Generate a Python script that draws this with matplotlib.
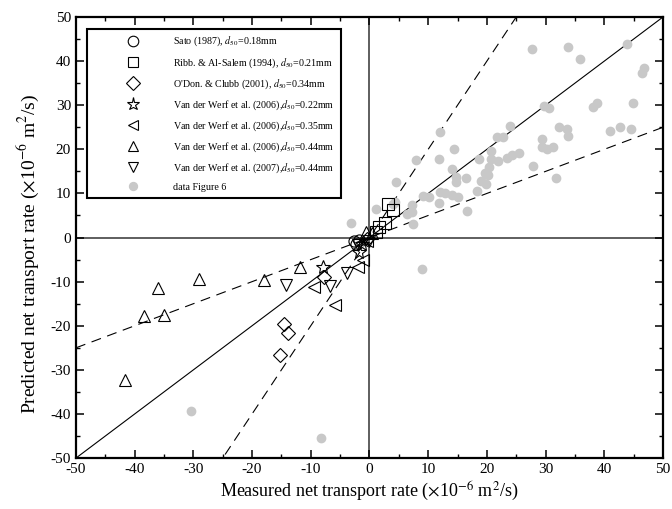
import matplotlib
matplotlib.use("Agg")
import matplotlib.pyplot as plt
import numpy as np
from matplotlib.ticker import MultipleLocator

plt.rcParams['font.family'] = ['Liberation Serif', 'DejaVu Serif']
plt.rcParams['mathtext.fontset'] = 'stix'

# gray "data Figure 6"
gray_x = [27.7, 33.8, 35.8, 43.8, 46.7, 46.5, 29.7, 30.5, 38.0, 38.7, 44.9, 12.0, 14.4, 24.0,
          21.8, 22.7, 20.7, 32.3, 33.6, 33.8, 41.0, 42.7, 44.6, 29.4, 29.4, 30.3, 31.3, 27.9,
          31.8, 7.9, 11.8, 14.0, 14.8, 14.8, 16.4, 18.6, 20.7, 21.9, 23.4, 24.3, 25.4, 20.4,
          19.6, 20.2, 19.0, 19.9, 18.3, 16.6, 12.0, 12.8, 11.9, 14.0, 15.1, 9.1, 10.2, 7.3,
          7.3, 6.4, 7.4, 4.5, 4.3, 8.9, 1.1, -3.1, 4.0, -30.4, -8.2]
gray_y = [42.8, 43.3, 40.4, 43.9, 38.4, 37.3, 29.9, 29.4, 29.5, 30.6, 30.5, 24.0, 20.0, 25.2,
          22.7, 22.7, 19.7, 25.0, 24.5, 23.1, 24.2, 25.0, 24.6, 22.3, 20.5, 20.1, 20.6, 16.2,
          13.5, 17.6, 17.8, 15.6, 13.7, 12.5, 13.5, 17.7, 17.7, 17.3, 18.1, 18.8, 19.1, 15.9,
          14.6, 14.1, 12.9, 12.2, 10.5, 6.1, 10.3, 10.0, 7.8, 9.6, 9.1, 9.5, 9.3, 7.3,
          5.7, 5.4, 3.1, 12.6, 8.0, -7.1, 6.5, 3.2, 7.6, -39.4, -45.4]

sato_x = [-2.7, -2.3, -1.8]
sato_y = [-0.7, -1.4, -0.5]
ribb_x = [3.1, 4.0, 2.7, 1.7, 1.1]
ribb_y = [7.5, 6.3, 3.3, 2.5, 1.2]
odon_x = [-14.6, -13.9, -15.3, -7.7, -0.5]
odon_y = [-19.6, -21.7, -26.6, -9.0, -0.3]
w22_x = [-8.0, -1.7, -1.2]
w22_y = [-6.7, -3.3, -1.5]
w35_x = [-9.4, -5.8, -2.0, -1.1, -0.5]
w35_y = [-11.1, -15.2, -6.6, -5.2, -0.8]
w44_x = [-36.1, -29.0, -38.4, -35.0, -41.7, -17.9, -11.8, -0.6, 0.5]
w44_y = [-11.5, -9.4, -17.8, -17.5, -32.2, -9.6, -6.7, 1.2, 1.0]
w07_x = [-14.2, -6.8, -3.9, 0.0, -2.0]
w07_y = [-10.7, -10.9, -8.1, -0.7, -1.8]

labels = ['Sato (1987), $d_{50}$=0.18mm',
          'Ribb. & Al-Salem (1994), $d_{50}$=0.21mm',
          "O'Don. & Clubb (2001), $d_{50}$=0.34mm",
          'Van der Werf et al. (2006),$d_{50}$=0.22mm',
          'Van der Werf et al. (2006),$d_{50}$=0.35mm',
          'Van der Werf et al. (2006),$d_{50}$=0.44mm',
          'Van der Werf et al. (2007),$d_{50}$=0.44mm',
          'data Figure 6']

fig = plt.figure(figsize=(6.72, 5.09), dpi=100)
ax = fig.add_axes([0.113, 0.100, 0.8736, 0.8666])
ax.set_xlim(-50, 50)
ax.set_ylim(-50, 50)

ref = np.array([-50, 50])
ax.plot(ref, ref, color='black', lw=0.8, zorder=2)
ax.plot(ref, 2 * ref, color='black', lw=0.8, dashes=(9, 6), zorder=2)
ax.plot(ref, 0.5 * ref, color='black', lw=0.8, dashes=(9, 6), zorder=2)
ax.axhline(0, color='#333333', lw=1.1, zorder=1)
ax.axvline(0, color='#333333', lw=1.1, zorder=1)

mk = dict(linestyle='none', mfc='none', mec='black', mew=0.8, ms=8, zorder=4)
h = []
h += ax.plot(sato_x, sato_y, marker='o', **mk)
h += ax.plot(ribb_x, ribb_y, marker='s', **mk)
h += ax.plot(odon_x, odon_y, marker='D', **{**mk, 'ms': 7})
h += ax.plot(w22_x, w22_y, marker='*', **{**mk, 'ms': 10})
h += ax.plot(w35_x, w35_y, marker='<', **mk)
h += ax.plot(w44_x, w44_y, marker='^', **mk)
h += ax.plot(w07_x, w07_y, marker='v', **mk)
h += ax.plot(gray_x, gray_y, marker='o', linestyle='none', color='#c8c8c8', ms=6, zorder=3)

leg = ax.legend(h, labels, loc='upper left', bbox_to_anchor=(0.019, 0.973), fontsize=7.2,
                frameon=True, fancybox=False, edgecolor='black', framealpha=1,
                handlelength=8.0, handletextpad=0.0, borderpad=0.6, labelspacing=0.76,
                borderaxespad=0, markerscale=0.95)
leg.get_frame().set_linewidth(1.5)
leg.set_zorder(10)

ax.xaxis.set_major_locator(MultipleLocator(10))
ax.yaxis.set_major_locator(MultipleLocator(10))
ax.xaxis.set_minor_locator(MultipleLocator(5))
ax.yaxis.set_minor_locator(MultipleLocator(5))
ax.tick_params(which='both', direction='in', top=True, right=True, labelsize=11)
ax.tick_params(which='major', length=6, width=1.1)
ax.tick_params(which='minor', length=3, width=1.0)
fmt = lambda v, p: ('-%d' % abs(v)) if v < 0 else '%d' % v
ax.xaxis.set_major_formatter(plt.FuncFormatter(fmt))
ax.yaxis.set_major_formatter(plt.FuncFormatter(fmt))
for s in ax.spines.values():
    s.set_linewidth(1.6)

ax.set_xlabel('Measured net transport rate ($\\times$10$^{-6}$ m$^{2}$/s)', fontsize=13, labelpad=3)
fig.text(28 / 672, 1 - 254 / 509,
         'Predicted net transport rate ($\\times$10$^{-6}$ m$^{2}$/s)', fontsize=14,
         rotation=90, ha='center', va='center')

fig.savefig('out.png', dpi=100)
